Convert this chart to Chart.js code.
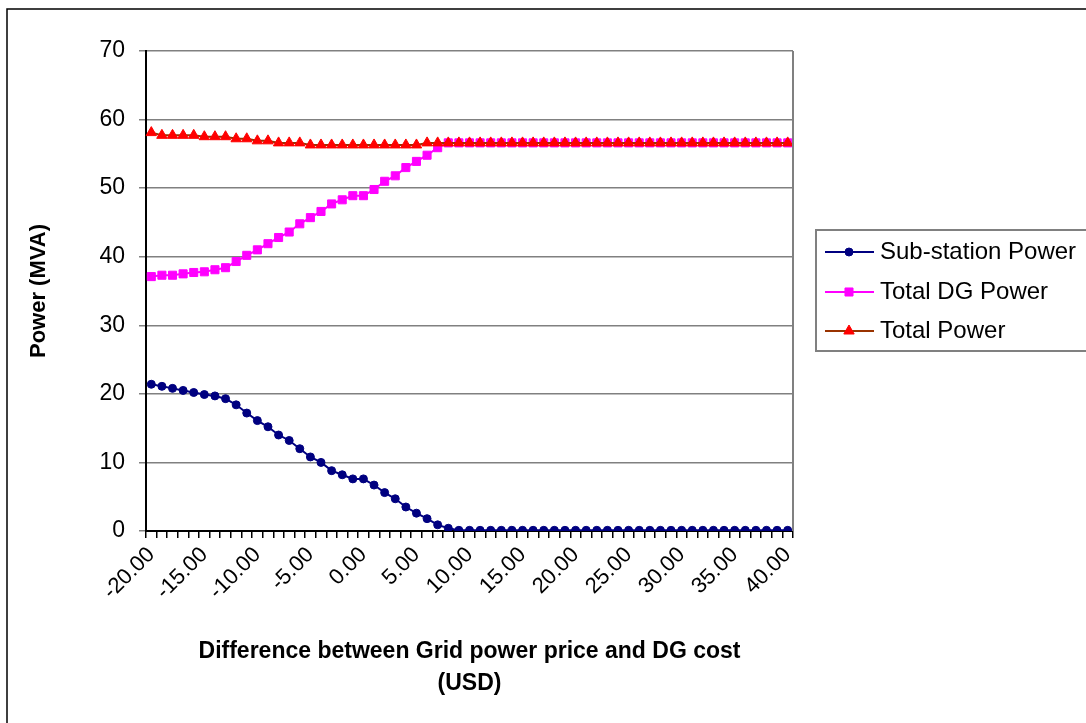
<!DOCTYPE html>
<html>
<head>
<meta charset="utf-8">
<script src="https://cdn.jsdelivr.net/npm/chart.js@4.4.0/dist/chart.umd.min.js"></script>
<style>
  html, body { margin: 0; padding: 0; background: #fff; }
</style>
</head>
<body>
<canvas id="c" width="1086" height="723"></canvas>
<script>
const categories = [
  -20, -19, -18, -17, -16, -15, -14, -13, -12, -11,
  -10, -9, -8, -7, -6, -5, -4, -3, -2, -1,
  0, 1, 2, 3, 4, 5, 6, 7, 8, 9,
  10, 11, 12, 13, 14, 15, 16, 17, 18, 19,
  20, 21, 22, 23, 24, 25, 26, 27, 28, 29,
  30, 31, 32, 33, 34, 35, 36, 37, 38, 39, 40,
];
const tickLabels = ["-20.00", "-15.00", "-10.00", "-5.00", "0.00", "5.00", "10.00",
  "15.00", "20.00", "25.00", "30.00", "35.00", "40.00"];

const subStation = [
  21.4, 21.1, 20.8, 20.5, 20.2, 19.9, 19.7, 19.3, 18.4, 17.2,
  16.1, 15.2, 14.0, 13.2, 12.0, 10.8, 10.0, 8.8, 8.2, 7.6,
  7.6, 6.7, 5.6, 4.7, 3.5, 2.6, 1.8, 0.9, 0.4, 0.1,
  0.1, 0.1, 0.1, 0.1, 0.1, 0.1, 0.1, 0.1, 0.1, 0.1,
  0.1, 0.1, 0.1, 0.1, 0.1, 0.1, 0.1, 0.1, 0.1, 0.1,
  0.1, 0.1, 0.1, 0.1, 0.1, 0.1, 0.1, 0.1, 0.1, 0.1, 0.1,
];
const totalDG = [
  37.1, 37.3, 37.3, 37.5, 37.7, 37.8, 38.1, 38.4, 39.3, 40.2,
  41.0, 41.9, 42.8, 43.6, 44.8, 45.7, 46.6, 47.7, 48.3, 48.9,
  48.9, 49.8, 51.0, 51.8, 53.0, 53.9, 54.8, 55.9, 56.6, 56.6,
  56.6, 56.6, 56.6, 56.6, 56.6, 56.6, 56.6, 56.6, 56.6, 56.6,
  56.6, 56.6, 56.6, 56.6, 56.6, 56.6, 56.6, 56.6, 56.6, 56.6,
  56.6, 56.6, 56.6, 56.6, 56.6, 56.6, 56.6, 56.6, 56.6, 56.6, 56.6,
];
const totalPower = [
  58.1, 57.7, 57.7, 57.7, 57.7, 57.5, 57.5, 57.5, 57.2, 57.2,
  56.9, 56.9, 56.6, 56.6, 56.6, 56.3, 56.3, 56.3, 56.3, 56.3,
  56.3, 56.3, 56.3, 56.3, 56.3, 56.3, 56.6, 56.6, 56.6, 56.6,
  56.6, 56.6, 56.6, 56.6, 56.6, 56.6, 56.6, 56.6, 56.6, 56.6,
  56.6, 56.6, 56.6, 56.6, 56.6, 56.6, 56.6, 56.6, 56.6, 56.6,
  56.6, 56.6, 56.6, 56.6, 56.6, 56.6, 56.6, 56.6, 56.6, 56.6, 56.6,
];

const FONT = "'Liberation Sans', Arial, sans-serif";

const datasets = [
  {
    label: "Sub-station Power",
    data: subStation,
    borderColor: "#000080",
    backgroundColor: "#000080",
    borderWidth: 2,
    pointStyle: "circle",
    pointRadius: 4,
    pointBorderWidth: 1,
    order: 2,
  },
  {
    label: "Total DG Power",
    data: totalDG,
    borderColor: "#ff00ff",
    backgroundColor: "#ff00ff",
    borderWidth: 2,
    pointStyle: "rect",
    pointRadius: 5.7,
    pointBorderWidth: 1,
    order: 1,
  },
  {
    label: "Total Power",
    data: totalPower,
    borderColor: "#993300",
    backgroundColor: "#ff0000",
    pointBorderColor: "#ff0000",
    borderWidth: 2,
    pointStyle: "triangle",
    pointRadius: 6,
    pointBorderWidth: 1,
    order: 0,
  },
];

// Excel-style legend box, plot border and outer frame
const frame = {
  id: "frame",
  afterDraw(chart) {
    const { ctx, chartArea: a } = chart;
    ctx.save();
    ctx.strokeStyle = "#808080";
    ctx.lineWidth = 2;
    ctx.beginPath();
    ctx.moveTo(a.right, a.top);
    ctx.lineTo(a.right, a.bottom);
    ctx.stroke();

    ctx.strokeStyle = "#000";
    ctx.lineWidth = 1.5;
    ctx.beginPath();
    ctx.moveTo(1090, 9);
    ctx.lineTo(7, 9);
    ctx.lineTo(7, 730);
    ctx.stroke();

    // legend
    ctx.strokeStyle = "#808080";
    ctx.lineWidth = 2;
    ctx.strokeRect(816, 230, 280, 121);
    const rows = [252, 292, 331];
    datasets.forEach((ds, i) => {
      const y = rows[i];
      ctx.strokeStyle = ds.borderColor;
      ctx.lineWidth = 2;
      ctx.beginPath();
      ctx.moveTo(825, y);
      ctx.lineTo(874, y);
      ctx.stroke();
      ctx.fillStyle = ds.backgroundColor;
      ctx.strokeStyle = ds.pointBorderColor || ds.borderColor;
      ctx.lineWidth = 1;
      Chart.helpers.drawPoint(ctx, { pointStyle: ds.pointStyle, radius: ds.pointRadius, rotation: 0, borderWidth: 1 }, 849, y);
      ctx.fillStyle = "#000";
      ctx.font = "24px " + FONT;
      ctx.textBaseline = "middle";
      ctx.textAlign = "left";
      ctx.fillText(ds.label, 880, y);
    });
    ctx.restore();
  },
};

new Chart(document.getElementById("c"), {
  type: "line",
  data: { labels: categories, datasets },
  plugins: [frame],
  options: {
    responsive: false,
    animation: false,
    devicePixelRatio: 1,
    layout: { padding: { top: 51, right: 293, bottom: 0, left: 0 } },
    plugins: { legend: { display: false }, tooltip: { enabled: false } },
    elements: { line: { tension: 0 } },
    scales: {
      x: {
        type: "category",
        offset: true,
        afterFit: (s) => { s.height = 192; },
        grid: {
          offset: true,
          drawOnChartArea: false,
          drawTicks: true,
          tickLength: 7,
          color: "#000",
          lineWidth: 1.5,
        },
        border: { display: true, color: "#000", width: 2 },
        ticks: {
          autoSkip: false,
          minRotation: 45,
          maxRotation: 45,
          padding: 4,
          color: "#000",
          font: { family: FONT, size: 22 },
          callback: (v, i) => {
            const lab = categories[i].toFixed(2);
            return tickLabels.includes(lab) ? lab : "";
          },
        },
        title: {
          display: true,
          text: ["Difference between Grid power price and DG cost", "(USD)"],
          color: "#000",
          font: { family: FONT, size: 23, weight: "bold", lineHeight: 1.39 },
          padding: { top: 0, bottom: 23 },
        },
      },
      y: {
        min: 0,
        max: 70,
        afterFit: (s) => { s.width = 146; },
        grid: { color: "#808080", lineWidth: 1.5, tickLength: 7 },
        border: { display: true, color: "#000", width: 2 },
        ticks: {
          stepSize: 10,
          padding: 14,
          color: "#000",
          font: { family: FONT, size: 23 },
        },
        title: {
          display: true,
          text: "Power (MVA)",
          color: "#000",
          font: { family: FONT, size: 22, weight: "bold" },
          padding: { top: 26, bottom: 0 },
        },
      },
    },
  },
});
</script>
</body>
</html>
